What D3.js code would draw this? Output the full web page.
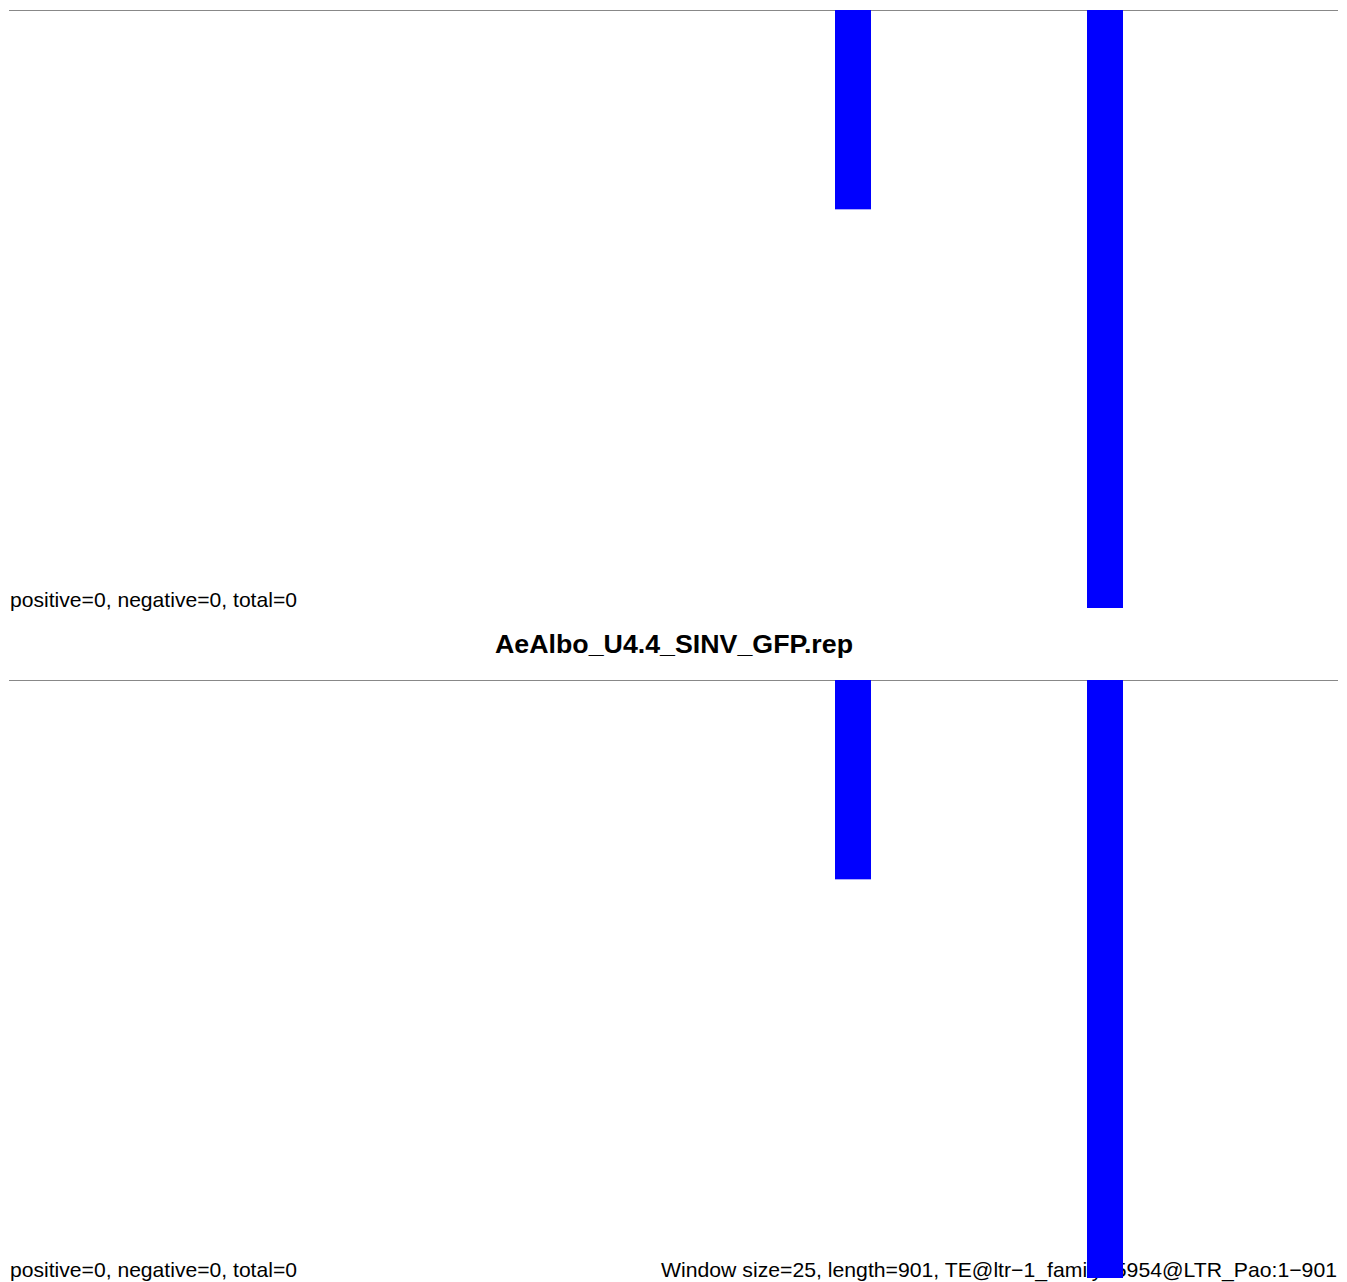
<!DOCTYPE html>
<html><head><meta charset="utf-8">
<script src="https://cdn.jsdelivr.net/npm/d3@7"></script>
<style>body{margin:0;background:#fff}svg{display:block}</style>
</head><body>
<script>
// data
const seqLength = 901;
const windowSize = 25;
const windowStarts = [560, 731];
const panel1Values = [-1, -3];
const panel2Values = [-1, -3];
const statsText = "positive=0, negative=0, total=0";
const titleText = "AeAlbo_U4.4_SINV_GFP.rep";
const footerText = "Window size=25, length=901, TE@ltr\u22121_family\u22125954@LTR_Pao:1\u2212901";

const W = 1347, H = 1282;
const svg = d3.select("body").append("svg").attr("width", W).attr("height", H);
const font = "Liberation Sans, Arial, sans-serif";

const x = d3.scaleLinear().domain([0, seqLength]).range([9, 1338]);

function panel(top, values, bottomOverlay) {
  const y = d3.scaleLinear().domain([0, -3]).range([top, top + 598]);
  const g = svg.append("g");
  g.append("line").attr("x1", x(0)).attr("x2", x(seqLength))
    .attr("y1", y(0) + 0.5).attr("y2", y(0) + 0.5)
    .attr("stroke", "#888").attr("stroke-width", 1.2);
  g.append("text").attr("x", 10).attr("y", top + 597)
    .attr("font-family", font).attr("font-size", 21).attr("fill", "#000")
    .attr("textLength", 287).attr("lengthAdjust", "spacingAndGlyphs")
    .text(statsText);
  if (bottomOverlay) bottomOverlay(g, top);
  g.selectAll("rect").data(values).join("rect")
    .attr("x", (d, i) => Math.round(x(windowStarts[i])))
    .attr("width", (d, i) => Math.round(x(windowStarts[i] + windowSize)) - Math.round(x(windowStarts[i])) - 1)
    .attr("y", d => y(0))
    .attr("height", d => y(d) - y(0))
    .attr("fill", "#0000ff");
}

panel(10, panel1Values);
svg.append("text").attr("x", 674).attr("y", 653).attr("text-anchor", "middle")
  .attr("font-family", font).attr("font-size", 26).attr("font-weight", "bold")
  .attr("textLength", 358).attr("lengthAdjust", "spacingAndGlyphs")
  .text(titleText);
panel(680, panel2Values, (g, top) => {
  g.append("text").attr("x", 1337).attr("y", top + 597).attr("text-anchor", "end")
    .attr("font-family", font).attr("font-size", 21).attr("fill", "#000")
    .attr("textLength", 676).attr("lengthAdjust", "spacingAndGlyphs")
    .text(footerText);
});
</script>
</body></html>
